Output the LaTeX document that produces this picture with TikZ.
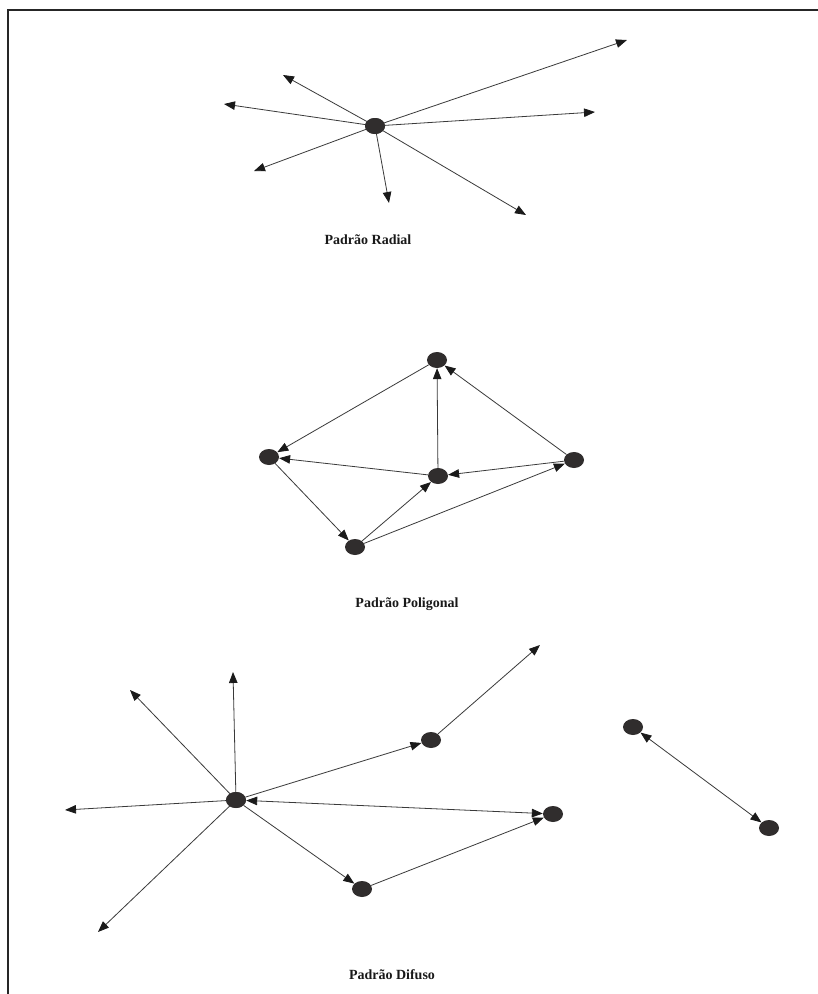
\documentclass[tikz,border=0pt]{standalone}
\usepackage{fontspec}
\setmainfont{Liberation Serif}
\usetikzlibrary{arrows.meta,shapes.geometric}
\definecolor{dotfill}{HTML}{302D2D}
\definecolor{edgecol}{HTML}{3A3A3A}
\definecolor{headcol}{HTML}{1A1A1A}
\begin{document}
\begin{tikzpicture}[x=1pt,y=-1pt,
  dot/.style={ellipse,fill=dotfill,draw=none,inner sep=0pt,minimum width=20pt,minimum height=16pt},
  link/.style={draw=edgecol,line width=0.8pt,-{Triangle[length=11pt,width=8.5pt,color=headcol]}},
  twoway/.style={draw=edgecol,line width=0.8pt,{Triangle[length=11pt,width=8.5pt,color=headcol]}-{Triangle[length=11pt,width=8.5pt,color=headcol]}},
  title/.style={font=\bfseries\fontsize{14pt}{16pt}\selectfont,text=black!90}]
\useasboundingbox (0,0) rectangle (818,994);
\fill[white] (0,0) rectangle (818,994);
% frame lines (top and left)
\draw[line width=1.3pt,black!85] (8,994) -- (8,10) -- (818,10);

% ---- radial pattern ----
\node[dot] (r) at (375,126) {};
\coordinate (r1) at (627,40);
\coordinate (r2) at (283,75);
\coordinate (r3) at (224,104);
\coordinate (r4) at (595,112);
\coordinate (r5) at (254,171);
\coordinate (r6) at (389,203);
\coordinate (r7) at (526,215);
\foreach \t in {r1,r2,r3,r4,r5,r6,r7} \draw[link] (r.center) -- (\t);
\fill[dotfill] (r) ellipse (10pt and 8pt);
\node[title] (tr) at (368,240) {Padrão Radial};

% ---- polygonal pattern ----
\node[dot] (pt) at (437,360) {};
\node[dot] (pl) at (269,457) {};
\node[dot] (pc) at (438,476) {};
\node[dot] (pr) at (574,460) {};
\node[dot] (pb) at (355,547) {};
\draw[link] (pt) -- (pl);
\draw[link] (pc) -- (pl);
\draw[link] (pc) -- (pt);
\draw[link] (pr) -- (pt);
\draw[link] (pr) -- (pc);
\draw[link] (pl) -- (pb);
\draw[link] (pb) -- (pc);
\draw[link] (pb) -- (pr);
\node[title] (tp) at (407,604) {Padrão Poligonal};

% ---- diffuse pattern ----
\node[dot] (h) at (236,800) {};
\node[dot] (da) at (431,740) {};
\node[dot] (db) at (553,814) {};
\node[dot] (dc) at (362,889) {};
\node[dot] (dx) at (633,727) {};
\node[dot] (dy) at (769,828) {};
\coordinate (h1) at (130,690);
\coordinate (h2) at (233,672);
\coordinate (h3) at (65,810);
\coordinate (h4) at (98,932);
\coordinate (a1) at (540,645);
\foreach \t in {h1,h2,h3,h4} \draw[link] (h.center) -- (\t);
\fill[dotfill] (h) ellipse (10pt and 8pt);
\draw[link] (h) -- (da);
\draw[link] (da) -- (a1);
\draw[twoway] (h) -- (db);
\draw[link] (h) -- (dc);
\draw[link] (dc) -- (db);
\draw[twoway] (dx) -- (dy);
\node[title] (td) at (392,975) {Padrão Difuso};
\end{tikzpicture}
\end{document}
